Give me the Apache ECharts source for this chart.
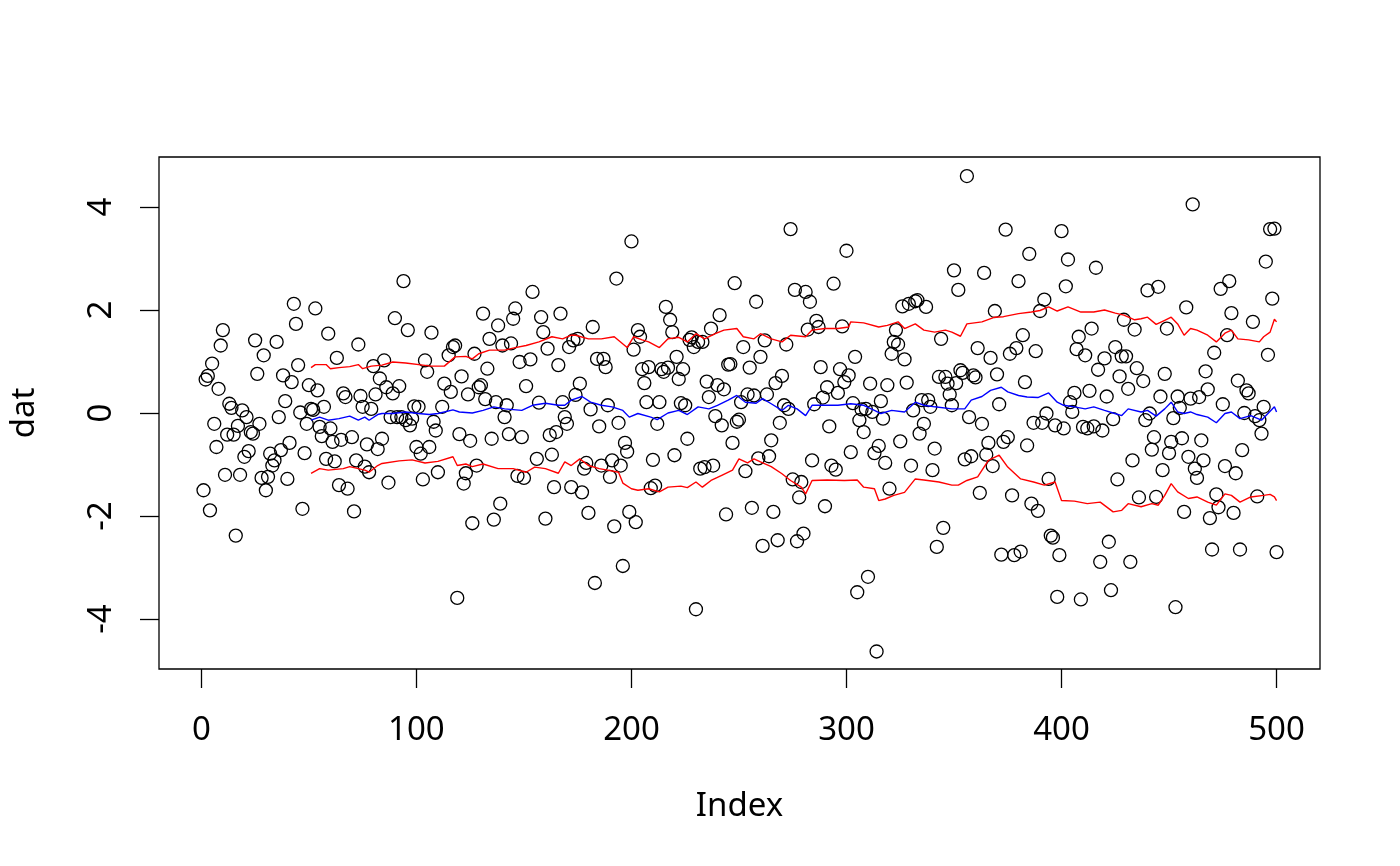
<!DOCTYPE html>
<html>
<head>
<meta charset="utf-8">
<title>dat</title>
<script src="https://cdn.jsdelivr.net/npm/echarts@6.0.0/dist/echarts.min.js"></script>
<style>
  html, body { margin: 0; padding: 0; background: #fff; }
  #plot { width: 1400px; height: 866px; }
</style>
</head>
<body>
<div id="plot"></div>
<script>
// observed values, index 1..500 (null = not readable in the picture)
var dat1 = [
  -1.50, 0.65, 0.72, -1.89, 0.96, -0.21, -0.66, 0.47, 1.31, 1.61,
  -1.20, -0.42, 0.18, 0.10, -0.42, -2.38, -0.25, -1.20, 0.05, -0.85,
  -0.08, -0.74, -0.37, -0.40, 1.41, 0.76, -0.21, -1.26, 1.12, -1.50,
  -1.24, -0.79, -1.02, -0.92, 1.38, -0.08, -0.72, 0.73, 0.23, -1.28,
  -0.58, 0.60, 2.12, 1.73, 0.93, 0.01, -1.86, -0.78, -0.21, 0.54,
  0.08, 0.06, 2.03, 0.44, -0.27, -0.45, 0.12, -0.89, 1.54, -0.30,
  -0.56, -0.94, 1.07, -1.40, -0.52, 0.38, 0.31, -1.47, null, -0.47,
  -1.91, -0.92, 1.33, 0.33, 0.12, -1.04, -0.61, -1.15, 0.08, 0.91,
  0.36, -0.70, 0.67, -0.50, 1.02, 0.50, -1.35, -0.08, 0.38, 1.84,
  -0.08, 0.52, -0.08, 2.56, -0.14, 1.61, -0.24, -0.11, 0.13, -0.66
];
var dat2 = [
  0.12, -0.79, -1.29, 1.02, 0.80, -0.66, 1.56, -0.17, -0.34, -1.15,
  null, 0.12, 0.57, null, 1.12, 0.41, 1.28, 1.31, -3.59, -0.41,
  0.71, -1.37, -1.17, 0.36, -0.54, -2.14, 1.15, -1.02, 0.50, 0.54,
  1.93, 0.27, 0.86, 1.44, -0.50, -2.07, 0.21, 1.70, -1.76, 1.31,
  -0.08, 0.15, -0.41, 1.35, 1.83, 2.03, -1.22, 0.99, -0.47, -1.26,
  0.52, null, 1.04, 2.35, null, -0.89, 0.20, 1.86, 1.57, -2.05,
  1.25, -0.43, -0.81, -1.44, -0.37, 0.93, 1.93, 0.21, -0.08, -0.21,
  1.28, -1.44, 1.41, 0.35, 1.44, 0.57, -1.54, -1.08, -0.97, -1.94,
  0.07, 1.67, -3.30, 1.05, -0.26, -1.02, 1.05, 0.89, 0.15, -1.24,
  -0.92, -2.20, 2.61, -0.19, -1.02, -2.97, -0.58, -0.75, -1.92, 3.33
];
var dat3 = [
  1.23, -2.12, 1.61, 1.48, 0.85, 0.58, 0.21, 0.89, -1.46, -0.91,
  -1.41, -0.21, 0.21, 0.85, 0.80, 2.06, 0.88, 1.81, 1.57, -0.82,
  1.09, 0.66, 0.19, 0.85, 0.15, -0.50, 1.42, 1.47, 1.28, -3.81,
  1.38, -1.08, 1.38, -1.05, 0.61, 0.31, 1.64, -1.02, -0.06, 0.54,
  1.90, -0.24, 0.46, -1.97, 0.94, 0.95, -0.58, 2.52, -0.17, -0.13,
  0.21, 1.28, -1.13, 0.36, 0.88, -1.84, 0.34, 2.16, -0.88, 1.09,
  -2.58, 1.41, 0.36, -0.84, -0.53, -1.92, 0.58, -2.47, -0.19, 0.72,
  0.15, 1.33, 0.08, 3.57, -1.29, 2.39, -2.49, -1.64, -1.34, -2.34,
  2.35, 1.62, 2.16, -0.92, 0.17, 1.79, 1.67, 0.89, 0.30, -1.81,
  0.50, -0.26, -1.02, 2.51, -1.10, 0.39, 0.85, 1.68, 0.60, 3.15
];
var dat4 = [
  0.73, -0.76, 0.19, 1.09, -3.48, -0.14, 0.07, -0.37, 0.08, -3.18,
  0.57, 0.02, -0.78, -4.63, -0.64, 0.23, -0.11, -0.97, 0.54, -1.47,
  1.15, 1.38, 1.61, 1.33, -0.55, 2.07, 1.04, 0.59, 2.12, -1.02,
  0.05, 2.17, 2.19, -0.40, 0.25, -0.21, 2.06, 0.25, 0.12, -1.11,
  -0.69, -2.60, 0.70, 1.44, -2.23, 0.70, 0.57, 0.36, 0.15, 2.77,
  0.58, 2.39, 0.83, 0.78, -0.90, 4.60, -0.08, -0.84, 0.73, 0.69,
  1.26, -1.55, -0.21, 2.72, -0.81, -0.58, 1.07, -1.03, 1.98, 0.75,
  0.17, -2.75, -0.56, 3.56, -0.47, 1.15, -1.60, -2.76, 1.26, 2.56,
  -2.69, 1.51, 0.60, -0.63, 3.09, -1.76, -0.19, 1.20, -1.90, 1.98,
  -0.19, 2.20, -0.01, -1.28, -2.38, -2.42, -0.24, -3.57, -2.76, 3.53
];
var dat5 = [
  -0.30, 2.46, 2.98, 0.21, 0.02, 0.39, 1.24, 1.48, -3.62, -0.27,
  1.12, -0.30, 0.43, 1.64, -0.26, 2.82, 0.84, -2.89, -0.34, 1.06,
  0.32, -2.50, -3.44, -0.12, 1.28, -1.29, 0.71, 1.10, 1.81, 1.10,
  0.47, -2.89, -0.92, 1.62, 0.87, -1.64, null, 0.62, -0.14, 2.38,
  -0.01, -0.71, -0.47, -1.63, 2.45, 0.32, -1.11, 0.76, 1.64, -0.78,
  -0.56, -0.10, -3.77, 0.32, 0.10, -0.49, -1.92, 2.05, -0.85, 0.28,
  4.05, -1.08, -1.26, 0.31, -0.53, -0.92, 0.81, 0.46, -2.04, -2.65,
  1.17, -1.58, -1.83, 2.41, 0.17, -1.03, 1.51, 2.56, 1.94, -1.94,
  -1.17, 0.63, -2.65, -0.72, 0.00, 0.44, 0.38, null, 1.77, -0.06,
  -1.62, -0.14, -0.40, 0.12, 2.94, 1.13, 3.57, 2.22, 3.58, -2.70
];

// rolling mean (blue) and bands (red)
var meanIdx = [51,55,59,64,69,73,76,78,82,84,89,95,101,106,110,117,120,126,131,136,
  141,149,154,160,166,169,172,177,181,186,191,196,199,203,209,212,217,222,226,231,
  236,240,245,249,253,258,261,265,270,273,277,281,284,290,296,302,308,313,316,321,
  327,332,336,341,349,355,358,363,367,372,375,380,384,389,394,398,401,406,411,415,
  420,424,428,431,437,440,444,448,451,454,457,460,463,468,472,476,479,483,488,493,
  496,499,500];
var meanVal = [-0.14,-0.08,-0.14,-0.11,-0.06,-0.14,-0.08,-0.14,-0.03,-0.01,-0.01,0.02,-0.01,-0.03,-0.01,0.06,0.02,0,0.05,0.12,
  0.08,0.05,0.15,0.19,0.15,0.15,0.25,0.32,0.21,0.15,0.12,0.05,-0.08,-0.01,-0.08,-0.13,0,0.05,-0.03,0.12,
  0.08,0.15,0.25,0.34,0.21,0.19,0.28,0.18,0.05,0.15,0.08,-0.05,0.15,0.15,0.15,0.18,0.15,0.05,-0.01,0.05,
  0.02,0.21,0.15,0.12,0.08,0.08,0.25,0.32,0.44,0.50,0.41,0.34,0.31,0.30,0.39,0.21,0.15,0.12,0.08,0.12,
  0.05,0,-0.05,0.08,0.02,0.05,-0.06,0.08,0.21,0.02,-0.01,0.02,-0.03,-0.08,-0.19,-0.01,0.02,-0.11,-0.05,-0.14,
  -0.01,0.12,0.02];

var upperIdx = [51,53,58,60,64,69,73,75,79,84,89,95,103,107,113,118,123,126,129,134,
  141,146,151,157,163,168,172,174,180,186,192,198,201,205,208,213,217,222,226,230,
  234,239,243,249,252,257,260,265,270,274,281,284,290,296,301,302,308,315,319,324,
  327,332,336,341,346,349,353,356,363,369,373,380,386,390,394,398,403,409,415,420,
  425,429,434,437,440,444,448,451,454,457,460,463,468,472,476,479,482,487,492,494,
  497,499,500];
var upperVal = [0.88,0.94,0.94,0.86,0.88,0.90,0.94,0.86,0.91,0.93,0.99,0.97,0.93,0.91,0.91,1.09,1.10,1.05,1.15,1.22,
  1.22,1.27,1.31,1.38,1.48,1.44,1.51,1.51,1.44,1.44,1.48,1.27,1.48,1.42,1.38,1.27,1.44,1.47,1.38,1.54,
  1.44,1.54,1.61,1.64,1.48,1.44,1.54,1.44,1.38,1.51,1.48,1.61,1.64,1.64,1.67,1.77,1.75,1.67,1.70,1.77,
  1.64,1.73,1.61,1.57,1.61,1.57,1.49,1.73,1.77,1.86,1.87,1.93,1.96,1.99,2.06,1.98,2.06,1.96,1.96,2.00,
  1.94,1.90,1.81,1.83,1.86,1.72,1.80,1.86,1.73,1.51,1.64,1.61,1.51,1.38,1.55,1.61,1.44,1.42,1.38,1.48,
  1.57,1.82,1.77];

var lowerIdx = [51,55,59,66,69,73,76,78,82,84,92,98,104,110,117,119,123,126,131,138,
  145,151,155,160,166,169,172,176,180,185,189,194,196,200,203,208,213,217,223,226,
  230,233,237,242,247,250,254,257,260,265,270,274,279,281,284,291,299,305,308,313,
  315,318,322,327,332,336,343,349,352,356,361,366,371,375,381,387,392,397,400,406,
  412,418,424,428,431,437,442,445,448,451,454,459,463,468,472,476,479,483,488,494,
  497,499,500];
var lowerVal = [-1.17,-1.08,-1.11,-1.08,-1.04,-1.08,-1.11,-1.15,-1.02,-0.98,-0.93,-0.91,-0.97,-0.94,-0.85,-1.02,-0.99,-1.04,-0.99,-1.08,
  -1.08,-1.15,-1.05,-1.08,-1.17,-0.95,-1.02,-0.89,-1.02,-1.08,-1.11,-1.15,-1.36,-1.47,-1.50,-1.47,-1.53,-1.44,-1.42,-1.45,
  -1.34,-1.44,-1.31,-1.21,-1.11,-0.89,-0.97,-0.89,-0.95,-1.04,-1.18,-1.31,-1.44,-1.57,-1.31,-1.30,-1.31,-1.30,-1.44,-1.47,
  -1.70,-1.67,-1.60,-1.54,-1.28,-1.30,-1.34,-1.40,-1.40,-1.31,-1.24,-0.92,-0.82,-1.05,-1.28,-1.34,-1.40,-1.34,-1.70,-1.71,
  -1.76,-1.73,-1.92,-1.89,-1.76,-1.82,-1.76,-1.79,-1.60,-1.37,-1.53,-1.66,-1.63,-1.73,-1.79,-1.57,-1.60,-1.73,-1.63,-1.60,
  -1.58,-1.63,-1.70];

var xTicks = [0, 100, 200, 300, 400, 500];
var yTicks = [-4, -2, 0, 2, 4];

var dat = dat1.concat(dat2, dat3, dat4, dat5);
var points = [];
dat.forEach(function (v, i) {
    if (v !== null) points.push([i + 1, v]);
});

function pairs(idx, val) {
    return idx.map(function (x, i) { return [x, val[i]]; });
}

var font = '"Noto Sans", "Open Sans", sans-serif';

var chart = echarts.init(document.getElementById('plot'), null, { renderer: 'canvas' });

chart.setOption({
    animation: false,
    backgroundColor: '#ffffff',
    grid: {
        left: 157,
        right: 80,
        top: 157,
        bottom: 197,
        show: true,
        borderColor: '#000',
        borderWidth: 1.3,
        backgroundColor: 'transparent'
    },
    xAxis: {
        type: 'value',
        min: -19.7,
        max: 520.2,
        name: 'Index',
        nameLocation: 'middle',
        nameGap: 121,
        nameTextStyle: { fontSize: 33, color: '#000', fontFamily: font },
        axisLine: { show: false, onZero: false },
        splitLine: { show: false },
        axisTick: {
            show: true,
            length: 19,
            customValues: xTicks,
            lineStyle: { color: '#000', width: 1.3 }
        },
        axisLabel: {
            customValues: xTicks,
            margin: 45,
            fontSize: 33,
            color: '#000',
            fontFamily: font
        }
    },
    yAxis: {
        type: 'value',
        min: -4.97,
        max: 4.97,
        name: 'dat',
        nameLocation: 'middle',
        nameGap: 118,
        nameTextStyle: { fontSize: 33, color: '#000', fontFamily: font },
        axisLine: { show: false, onZero: false },
        splitLine: { show: false },
        axisTick: {
            show: true,
            length: 19,
            customValues: yTicks,
            lineStyle: { color: '#000', width: 1.3 }
        },
        axisLabel: {
            customValues: yTicks,
            rotate: 90,
            margin: 41,
            fontSize: 33,
            color: '#000',
            fontFamily: font
        }
    },
    series: [{
        name: 'dat',
        type: 'scatter',
        data: points,
        symbol: 'circle',
        symbolSize: 13,
        silent: true,
        itemStyle: {
            color: 'rgba(0,0,0,0)',
            borderColor: '#000',
            borderWidth: 1.3,
            opacity: 1
        }
    }, {
        name: 'upper',
        type: 'line',
        data: pairs(upperIdx, upperVal),
        showSymbol: false,
        silent: true,
        lineStyle: { color: '#ff0000', width: 1.4 }
    }, {
        name: 'lower',
        type: 'line',
        data: pairs(lowerIdx, lowerVal),
        showSymbol: false,
        silent: true,
        lineStyle: { color: '#ff0000', width: 1.4 }
    }, {
        name: 'mean',
        type: 'line',
        data: pairs(meanIdx, meanVal),
        showSymbol: false,
        silent: true,
        lineStyle: { color: '#0000ff', width: 1.4 }
    }]
});
</script>
</body>
</html>
